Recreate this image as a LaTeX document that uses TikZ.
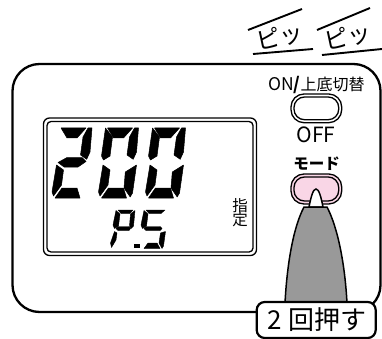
\documentclass[tikz,border=0pt]{standalone}
\usepackage{fontspec}
\setmainfont{Noto Sans CJK JP}
\newcommand{\fsz}[1]{\fontsize{#1}{#1}\selectfont}
\tikzset{
  segfill/.style={fill=black,draw=black,line width=0.5pt,line join=round},
  smallseg/.style={fill=black,draw=black,line width=0.4pt,line join=round},
  outline/.style={draw=black,line width=2.3pt},
  panelbox/.style={draw=black,line width=1.3pt,rounded corners=6pt},
  buttonline/.style={draw=black,line width=1.3pt},
  lbl/.style={inner sep=0pt,outer sep=0pt,text=black},
  beep/.style={lbl,rotate=12,font=\fsz{24}},
  beepline/.style={draw=black,line width=1.9pt}
}
\definecolor{btnpink}{HTML}{F9D6E6}
\definecolor{pengray}{HTML}{999999}
\newcommand{\segA}{\path[segfill] (61,128)--(86,128)--(77,138)--(67,138)--cycle;}
\newcommand{\segB}{\path[segfill] (88,128)--(92,128)--(90,152)--(86.7,159.3)--(80.5,155)--(83,137)--cycle;}
\newcommand{\segC}{\path[segfill] (90,165)--(86,193)--(83.7,197)--(77.5,188)--(78.8,172)--cycle;}
\newcommand{\segD}{\path[segfill] (55,198)--(62,188)--(77,188)--(80,198)--cycle;}
\newcommand{\segE}{\path[segfill] (56.5,165)--(63.5,170)--(61.5,185)--(53.5,196)--(52,192)--cycle;}
\newcommand{\segF}{\path[segfill] (59,128)--(66,137)--(63.5,156)--(57,160)--(55,156)--cycle;}
\newcommand{\segG}{\path[segfill] (58,162.5)--(67,157.5)--(82,157.5)--(86,161.5)--(78,167)--(64,167)--cycle;}
\begin{document}
\begin{tikzpicture}[x=1pt,y=-1pt]
\useasboundingbox (0,0) rectangle (382,339);
\clip (0,0) rectangle (382,339);
% device body
\draw[outline,rounded corners=27pt] (12.5,64) rectangle (380.5,312);
% LCD
\draw[panelbox] (43.5,118) rectangle (256.5,255.5);
\draw[panelbox,rounded corners=4pt] (47,121.5) rectangle (253,252);
% big digits
\segA\segB\segG\segE\segD
\begin{scope}[shift={(46.5,0)}]\segA\segB\segC\segD\segE\segF\end{scope}
\begin{scope}[shift={(93.5,0)}]\segA\segB\segC\segD\segE\segF\end{scope}
% P.5
\path[smallseg] (118,210)--(133,210)--(130,213.5)--(121,213.5)--cycle;
\path[smallseg] (116,210.5)--(120,214)--(118.5,226)--(114.5,228.5)--(113,225)--cycle;
\path[smallseg] (135,210.5)--(133.5,226)--(131,228.5)--(129.5,226)--(130.5,214)--cycle;
\path[smallseg] (116,228.5)--(118,226.5)--(129,226.5)--(130.5,228.5)--(129,230.5)--(118,230.5)--cycle;
\path[smallseg] (114.5,231.5)--(117,233)--(116,240)--(111.5,247.5)--(110.5,243)--cycle;
\fill (134,243.5) rectangle (139.5,248);
\path[smallseg] (146,210)--(165,210)--(161,213.5)--(149,213.5)--cycle;
\path[smallseg] (144,210.5)--(148,214)--(146.5,226)--(142.5,228.5)--(141,225)--cycle;
\path[smallseg] (144,228.5)--(146,226.5)--(160,226.5)--(162,228.5)--(160,230.5)--(146,230.5)--cycle;
\path[smallseg] (165.5,231.5)--(163.5,246)--(162,248.5)--(159,243)--(160.5,233)--cycle;
\path[smallseg] (144,248.5)--(148,243)--(157,243)--(160,248.5)--cycle;
% side text
\node[lbl,font=\fsz{15.5}] (sa) at (240,205.5) {指};
\node[lbl,font=\fsz{15.5}] (sb) at (240,220) {定};
% top button
\node[lbl,font=\fsz{17.5},anchor=center] (on) at (316.5,85) {ON\textbf{/}\fsz{16}上底切替};
\draw[buttonline,fill=white,rounded corners=13pt] (291,94) rectangle (341.7,122.7);
\draw[buttonline,rounded corners=10.5pt] (294,97) rectangle (338.7,119.7);
\node[lbl,font=\fsz{21}] (off) at (316,135) {OFF};
% mode button
\node[lbl,font=\fsz{15.5}\bfseries] (mode) at (316.5,163.5) {モード};
\draw[buttonline,fill=btnpink,rounded corners=13pt] (291,174) rectangle (341.7,204);
\draw[buttonline,rounded corners=10.5pt] (294,177) rectangle (338.7,201);
% pointer
\draw[draw=black,line width=1.5pt,fill=white] (309,207) .. controls (311,197) and (313,189) .. (316,189) .. controls (319,189) and (321,197) .. (323,207) -- cycle;
\draw[draw=black,line width=1.5pt,fill=pengray] (285,303) .. controls (287,265) and (293,228) .. (304,207) -- (327,207) .. controls (338,228) and (345,265) .. (347,303) -- cycle;
% beep marks
\draw[beepline] (248,30) -- (302,9);
\draw[beepline] (253,54) -- (313,49);
\node[beep] (b1) at (280,37) {ピッ};
\draw[beepline] (317,30) -- (370,8);
\draw[beepline] (322,55) -- (382,49);
\node[beep] (b2) at (348,37) {ピッ};
% label
\node[draw=black,line width=2.2pt,fill=white,rounded corners=8pt,minimum width=119pt,minimum height=36pt,inner sep=0pt,font=\fsz{26}] (lab) at (316.2,320) {\hspace*{2pt}2\hspace{7pt}回押す};
\end{tikzpicture}
\end{document}
